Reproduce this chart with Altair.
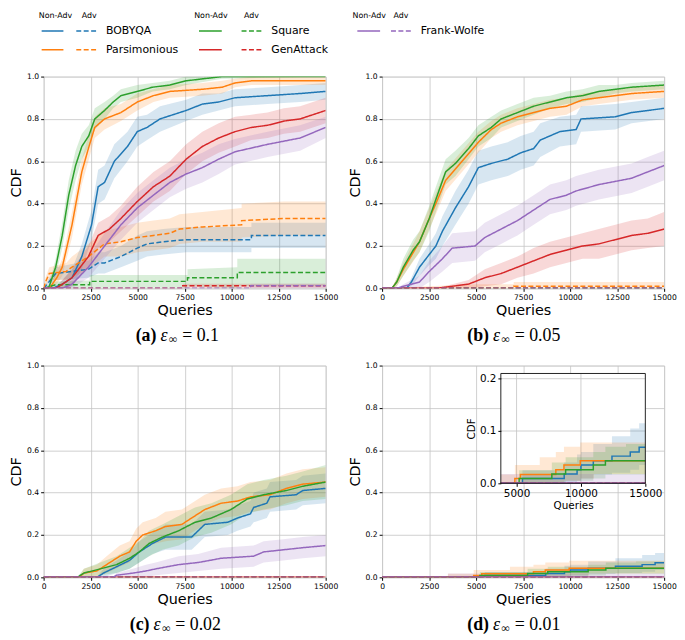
import altair as alt
import pandas as pd

METHODS = ["BOBYQA", "Parsimonious", "Square", "GenAttack", "Frank-Wolfe"]
COLORS = ["#1f77b4", "#ff7f0e", "#2ca02c", "#d62728", "#9467bd"]
KINDS = ["Non-Adv", "Adv"]
X_TICKS = [0, 2500, 5000, 7500, 10000, 12500, 15000]
Y_TICKS = [0.0, 0.2, 0.4, 0.6, 0.8, 1.0]
INSET_X_TICKS = [5000, 10000, 15000]
INSET_Y_TICKS = [0.0, 0.1, 0.2]
INSET_X_DOMAIN = [3780, 15000]
INSET_Y_DOMAIN = [0, 0.21]
CAPTIONS = [("a", "0.1"), ("b", "0.05"), ("c", "0.02"), ("d", "0.01")]

ZERO = [(0, 0.0, 0.0), (15000, 0.0, 0.0)]

# ---- panel (a) eps=0.1 : (queries, cdf, band half-width)
A_BOB_NA = [(0, 0, 0), (470, 0, 0), (1000, 0.02, 0.02), (1510, 0.05, 0.04), (2030, 0.15, 0.06), (2550, 0.30, 0.07),
            (2900, 0.48, 0.08), (3240, 0.50, 0.08), (3760, 0.60, 0.08), (4460, 0.67, 0.07), (4980, 0.74, 0.07),
            (5500, 0.76, 0.06), (6190, 0.80, 0.06), (7580, 0.84, 0.05), (8440, 0.87, 0.05), (9310, 0.88, 0.04),
            (10180, 0.90, 0.04), (11910, 0.91, 0.04), (13640, 0.92, 0.04), (15000, 0.93, 0.04)]
A_BOB_ADV = [(0, 0, 0), (100, 0.01, 0.01), (640, 0.07, 0.03), (2380, 0.09, 0.04), (2900, 0.12, 0.05), (3240, 0.12, 0.05),
             (4110, 0.15, 0.05), (4980, 0.19, 0.06), (5500, 0.21, 0.06), (6360, 0.22, 0.06), (7580, 0.23, 0.06),
             (11050, 0.23, 0.06), (11050, 0.25, 0.06), (15000, 0.25, 0.06)]
A_PARS_NA = [(0, 0, 0), (300, 0, 0), (700, 0.05, 0.03), (990, 0.10, 0.04), (1250, 0.20, 0.05), (1510, 0.30, 0.06),
             (1800, 0.44, 0.06), (2030, 0.55, 0.06), (2380, 0.66, 0.06), (2720, 0.76, 0.05), (3240, 0.80, 0.05),
             (4110, 0.83, 0.04), (4980, 0.88, 0.04), (5840, 0.91, 0.03), (6710, 0.93, 0.03), (8440, 0.94, 0.03),
             (9500, 0.95, 0.03), (10180, 0.97, 0.02), (11050, 0.98, 0.02), (15000, 0.98, 0.02)]
A_PARS_ADV = [(0, 0, 0), (100, 0.03, 0.02), (300, 0.07, 0.03), (1200, 0.08, 0.04), (1510, 0.10, 0.05), (2380, 0.15, 0.06),
              (3240, 0.21, 0.06), (4110, 0.22, 0.07), (4980, 0.24, 0.07), (5840, 0.25, 0.07), (6710, 0.26, 0.07),
              (7230, 0.28, 0.07), (8440, 0.29, 0.07), (10530, 0.30, 0.08), (10530, 0.32, 0.08), (12780, 0.33, 0.08),
              (15000, 0.33, 0.08)]
A_SQ_NA = [(0, 0, 0), (200, 0, 0), (300, 0.01, 0.01), (640, 0.10, 0.04), (990, 0.25, 0.06), (1335, 0.44, 0.07),
           (1700, 0.58, 0.07), (2030, 0.67, 0.06), (2400, 0.72, 0.05), (2720, 0.80, 0.05), (3240, 0.84, 0.04),
           (3700, 0.88, 0.03), (4110, 0.91, 0.03), (4980, 0.93, 0.03), (5800, 0.95, 0.02), (6710, 0.96, 0.02),
           (7580, 0.98, 0.02), (9480, 1.0, 0.01), (15000, 1.0, 0.0)]
A_SQ_ADV = [(0, 0, 0), (640, 0.017, 0.015), (2450, 0.017, 0.02), (2450, 0.033, 0.03), (7650, 0.033, 0.03),
            (7650, 0.05, 0.04), (10300, 0.05, 0.05), (10300, 0.075, 0.065), (15000, 0.075, 0.065)]
A_GEN_NA = [(0, 0, 0), (640, 0, 0), (1000, 0.02, 0.02), (1510, 0.05, 0.04), (2380, 0.15, 0.05), (2900, 0.25, 0.06),
            (3500, 0.28, 0.06), (4110, 0.33, 0.06), (4980, 0.41, 0.07), (5840, 0.48, 0.07), (6710, 0.53, 0.07),
            (7580, 0.61, 0.07), (8440, 0.67, 0.07), (9310, 0.71, 0.07), (10180, 0.74, 0.07), (11050, 0.76, 0.06),
            (11910, 0.77, 0.06), (12780, 0.79, 0.06), (13640, 0.80, 0.06), (15000, 0.84, 0.06)]
A_GEN_ADV = [(0, 0, 0), (7400, 0, 0), (7400, 0.012, 0.01), (15000, 0.012, 0.01)]
A_FW_NA = [(0, 0, 0), (990, 0, 0), (1510, 0.02, 0.02), (2380, 0.10, 0.05), (3240, 0.20, 0.06), (4110, 0.30, 0.07),
           (4980, 0.38, 0.07), (5840, 0.44, 0.07), (6710, 0.50, 0.07), (7580, 0.54, 0.07), (8440, 0.57, 0.07),
           (9310, 0.61, 0.07), (10180, 0.645, 0.06), (11910, 0.68, 0.06), (13640, 0.71, 0.06), (15000, 0.76, 0.05)]
A_FW_ADV = [(0, 0, 0), (11000, 0, 0), (11000, 0.012, 0.01), (15000, 0.012, 0.01)]

# ---- panel (b) eps=0.05
B_BOB_NA = [(0, 0, 0), (1300, 0, 0), (1560, 0.03, 0.02), (1990, 0.10, 0.04), (2510, 0.16, 0.05), (2860, 0.20, 0.06),
            (3210, 0.27, 0.07), (3900, 0.38, 0.08), (4600, 0.48, 0.08), (5120, 0.57, 0.08), (5810, 0.59, 0.08),
            (6680, 0.61, 0.08), (7370, 0.64, 0.08), (8060, 0.66, 0.08), (8410, 0.70, 0.08), (9450, 0.74, 0.07),
            (10320, 0.75, 0.07), (10580, 0.80, 0.06), (12400, 0.81, 0.06), (13270, 0.83, 0.05), (15000, 0.85, 0.05)]
B_PARS_NA = [(0, 0, 0), (520, 0, 0), (780, 0.03, 0.02), (1130, 0.09, 0.03), (1990, 0.22, 0.05), (2510, 0.33, 0.05),
             (2860, 0.40, 0.05), (3380, 0.51, 0.05), (4250, 0.60, 0.05), (5120, 0.69, 0.05), (5810, 0.75, 0.04),
             (6330, 0.78, 0.04), (7200, 0.81, 0.04), (8060, 0.83, 0.04), (8930, 0.85, 0.04), (9800, 0.86, 0.04),
             (10660, 0.89, 0.03), (11530, 0.90, 0.03), (13270, 0.92, 0.03), (15000, 0.93, 0.03)]
B_PARS_ADV = [(0, 0, 0), (5000, 0, 0.02), (7000, 0, 0.02), (7000, 0.01, 0.02), (15000, 0.01, 0.02)]
B_SQ_NA = [(0, 0, 0), (520, 0, 0), (780, 0.03, 0.02), (1130, 0.10, 0.04), (1650, 0.18, 0.05), (1990, 0.22, 0.05),
           (2510, 0.33, 0.06), (2860, 0.42, 0.06), (3380, 0.55, 0.06), (3900, 0.59, 0.06), (4600, 0.66, 0.05),
           (5120, 0.72, 0.05), (5810, 0.76, 0.05), (6330, 0.80, 0.04), (7200, 0.83, 0.04), (8060, 0.86, 0.04),
           (8930, 0.88, 0.03), (9800, 0.90, 0.03), (10660, 0.91, 0.03), (11530, 0.93, 0.03), (12400, 0.94, 0.02),
           (13270, 0.95, 0.02), (15000, 0.96, 0.02)]
B_GEN_NA = [(0, 0, 0), (2860, 0, 0), (3730, 0.01, 0.01), (4600, 0.02, 0.02), (5460, 0.05, 0.04), (6330, 0.07, 0.05),
            (7200, 0.10, 0.05), (8060, 0.13, 0.06), (8930, 0.16, 0.06), (9800, 0.18, 0.06), (10660, 0.20, 0.06),
            (11530, 0.21, 0.07), (12400, 0.23, 0.07), (13270, 0.25, 0.07), (14130, 0.26, 0.07), (15000, 0.28, 0.08)]
B_FW_NA = [(0, 0, 0), (780, 0, 0), (1130, 0.01, 0.01), (1990, 0.03, 0.03), (2510, 0.08, 0.05), (3210, 0.14, 0.06),
           (3730, 0.19, 0.07), (4940, 0.20, 0.07), (5460, 0.24, 0.07), (6330, 0.28, 0.07), (7200, 0.32, 0.07),
           (8060, 0.37, 0.07), (8930, 0.42, 0.07), (9800, 0.44, 0.07), (10320, 0.46, 0.07), (11530, 0.49, 0.07),
           (13270, 0.52, 0.07), (14130, 0.55, 0.07), (15000, 0.58, 0.07)]

# ---- panel (c) eps=0.02
C_BOB_NA = [(0, 0, 0), (2830, 0, 0), (3180, 0.02, 0.02), (3880, 0.05, 0.03), (4570, 0.08, 0.04), (5090, 0.12, 0.05),
            (5790, 0.16, 0.05), (6480, 0.19, 0.06), (7870, 0.19, 0.06), (8220, 0.22, 0.06), (8570, 0.25, 0.06),
            (9790, 0.26, 0.06), (10310, 0.28, 0.06), (11000, 0.30, 0.06), (11170, 0.33, 0.07), (11870, 0.35, 0.07),
            (12040, 0.38, 0.07), (13430, 0.39, 0.07), (13780, 0.41, 0.07), (15000, 0.42, 0.07)]
C_PARS_NA = [(0, 0, 0), (1880, 0, 0), (2140, 0.02, 0.02), (2830, 0.03, 0.03), (3350, 0.06, 0.04), (4050, 0.10, 0.05),
             (4570, 0.12, 0.05), (4920, 0.17, 0.06), (5270, 0.20, 0.06), (5960, 0.22, 0.06), (6480, 0.24, 0.07),
             (7350, 0.25, 0.07), (7870, 0.28, 0.07), (8570, 0.32, 0.07), (9440, 0.35, 0.07), (10310, 0.36, 0.07),
             (11000, 0.38, 0.07), (12040, 0.39, 0.07), (12910, 0.42, 0.07), (13780, 0.44, 0.07), (15000, 0.45, 0.07)]
C_SQ_NA = [(0, 0, 0), (1790, 0, 0), (2140, 0.02, 0.02), (3010, 0.04, 0.03), (3880, 0.06, 0.04), (4570, 0.09, 0.05),
           (5090, 0.12, 0.05), (5610, 0.16, 0.06), (6310, 0.19, 0.06), (7180, 0.22, 0.07), (8050, 0.26, 0.07),
           (8920, 0.28, 0.07), (9960, 0.32, 0.07), (10830, 0.37, 0.07), (11700, 0.39, 0.07), (12910, 0.41, 0.07),
           (13780, 0.43, 0.07), (15000, 0.45, 0.08)]
C_FW_NA = [(0, 0, 0), (3700, 0, 0), (3880, 0.01, 0.01), (4750, 0.02, 0.02), (5440, 0.03, 0.03), (5960, 0.04, 0.03),
           (7180, 0.06, 0.04), (8220, 0.07, 0.04), (9440, 0.09, 0.05), (11170, 0.10, 0.05), (11700, 0.12, 0.05),
           (12740, 0.13, 0.05), (13780, 0.14, 0.05), (15000, 0.15, 0.05)]

# ---- panel (d) eps=0.01 : (queries, cdf, band low, band high), step curves
D_ZERO = [(0, 0, 0, 0), (15000, 0, 0, 0)]
D_BOB_NA = [(0, 0, 0, 0), (5460, 0.009, 0, 0.025), (8700, 0.018, 0, 0.04), (9700, 0.026, 0.005, 0.055),
            (10000, 0.035, 0.009, 0.06), (10960, 0.043, 0.017, 0.075), (12410, 0.052, 0.02, 0.09),
            (13830, 0.060, 0.026, 0.105), (14520, 0.069, 0.035, 0.115), (15000, 0.069, 0.035, 0.115)]
D_PARS_NA = [(0, 0, 0, 0), (3500, 0, 0, 0.017), (4870, 0.009, 0, 0.035), (5300, 0.017, 0, 0.035),
             (6800, 0.017, 0, 0.05), (8050, 0.026, 0, 0.06), (8680, 0.035, 0.005, 0.07),
             (9950, 0.043, 0.009, 0.078), (11000, 0.043, 0.018, 0.078), (15000, 0.043, 0.018, 0.078)]
D_SQ_NA = [(0, 0, 0, 0), (5200, 0.009, 0, 0.025), (7740, 0.018, 0, 0.04), (8810, 0.026, 0.005, 0.05),
           (10960, 0.035, 0.009, 0.06), (11900, 0.043, 0.017, 0.07), (13500, 0.043, 0.017, 0.075),
           (15000, 0.043, 0.017, 0.075)]
D_FW_NA = [(0, 0, 0, 0), (3500, 0, 0, 0.018), (15000, 0, 0, 0.018)]

# ---- legend layout (pixels relative to the first panel's left edge / legend box top)
LEGEND_GROUPS = [["BOBYQA", "Parsimonious"], ["Square", "GenAttack"], ["Frank-Wolfe"]]
LEG_SOLID = [(-2, 20), (157, 180), (317, 340)]
LEG_DASH = [(33, 53), (200, 220), (351, 371)]
LEG_LABEL_X = [63, 230, 381]
LEG_HEAD_NA = [12, 169, 329]
LEG_HEAD_ADV = [46, 210, 361]
LEG_ROW_Y = [20, 39]
LEG_HEAD_Y = 5

W, H = 285, 214
HSP = 57
VSP = 78
GRID = "#c4c4c4"
FONT = "DejaVu Sans"
SERIF = "Liberation Serif"
IL, IR, IT, IB = 120, 266, 8, 119
LEG_W, LEG_H, LEG_GAP = 2 * W + HSP, 58, 8
BAND_OPACITY = 0.18

COLOR_SCALE = alt.Scale(domain=METHODS, range=COLORS)
DASH_SCALE = alt.Scale(domain=KINDS, range=[[1, 0], [5, 2.5]])


def curves_of(table, default):
    return [((m, k), table.get((m, k), default)) for m in METHODS for k in KINDS]


def build_df(curves, x_min=None):
    rows = []
    for (m, k), pts in curves:
        for i, p in enumerate(pts):
            if len(p) == 3:
                x, y, hw = p
                lo, hi = max(0.0, y - hw), min(1.0, y + hw)
            else:
                x, y, lo, hi = p
            if x_min is not None:
                x = max(x, x_min)
            rows.append(dict(method=m, kind=k, series=m + "|" + k, idx=i, x=x, y=y, lo=lo, hi=hi))
    return pd.DataFrame(rows)


def axis_common(**kw):
    base = dict(labelFontSize=7.7, titleFontSize=14.5, tickSize=3, labelPadding=2, titlePadding=3, grid=True,
                gridColor=GRID, gridWidth=0.8, domain=False, labelFlush=False, labelOverlap=False,
                tickColor="black", labelColor="black", titleColor="black", titleFontWeight="normal",
                labelFont=FONT, titleFont=FONT)
    base.update(kw)
    return alt.Axis(**base)


def caption_layers(letter, eps, px):
    c = alt.Chart(pd.DataFrame({"t": [0]}))
    yc = H + 48
    return [
        c.mark_text(text="(" + letter + ")", font=SERIF, fontSize=18, fontWeight="bold", align="right",
                    baseline="middle", color="black").encode(x=alt.value(px), y=alt.value(yc)),
        c.mark_text(text="ε", font=SERIF, fontSize=18, fontStyle="italic", align="left",
                    baseline="middle", color="black").encode(x=alt.value(px + 4), y=alt.value(yc)),
        c.mark_text(text="∞", font=SERIF, fontSize=12, align="left",
                    baseline="middle", color="black").encode(x=alt.value(px + 12.5), y=alt.value(yc + 3)),
        c.mark_text(text="= " + eps, font=SERIF, fontSize=18, align="left",
                    baseline="middle", color="black").encode(x=alt.value(px + 26), y=alt.value(yc)),
    ]


def main_layer(curves, interp, letter, eps, cap_x):
    df = build_df(curves)
    xs = alt.Scale(domain=[0, 15000], nice=False, zero=False)
    ys = alt.Scale(domain=[0, 1], nice=False)
    xa = axis_common(values=X_TICKS, format="d", title="Queries")
    ya = axis_common(values=Y_TICKS, format=".1f", title="CDF")
    x_enc = alt.X("x:Q", scale=xs, axis=xa)
    color = alt.Color("method:N", scale=COLOR_SCALE, legend=None)
    base = alt.Chart(df)
    bands = base.mark_area(interpolate=interp, opacity=BAND_OPACITY, clip=True).encode(
        x=x_enc, y=alt.Y("lo:Q", scale=ys, axis=ya), y2="hi:Q", color=color, detail="series:N")
    lines = base.mark_line(interpolate=interp, strokeWidth=1.5, clip=True).encode(
        x=x_enc, y=alt.Y("y:Q", scale=ys, axis=ya), color=color,
        strokeDash=alt.StrokeDash("kind:N", scale=DASH_SCALE, legend=None),
        detail="series:N", order="idx:Q")
    return alt.layer(bands, lines, *caption_layers(letter, eps, cap_x))


def inset_layer(curves):
    df = build_df(curves, x_min=INSET_X_DOMAIN[0])
    xs = alt.Scale(domain=INSET_X_DOMAIN, range=[IL, IR], nice=False, zero=False)
    ys = alt.Scale(domain=INSET_Y_DOMAIN, range=[IB, IT], nice=False)
    xa = axis_common(values=INSET_X_TICKS, format="d", orient="bottom", offset=IB - H, title="Queries",
                     labelFontSize=10.5, titleFontSize=10.5, titlePadding=2, grid=False, zindex=1)
    ya = axis_common(values=INSET_Y_TICKS, format=".1f", orient="left", offset=-IL, title="CDF",
                     labelFontSize=10.5, titleFontSize=10.5, grid=False, zindex=1)
    x_enc = alt.X("x:Q", scale=xs, axis=xa)
    y_enc = alt.Y("y:Q", scale=ys, axis=ya)
    box = pd.DataFrame({"x": [INSET_X_DOMAIN[0]], "xe": [INSET_X_DOMAIN[1]],
                        "y": [INSET_Y_DOMAIN[0]], "ye": [INSET_Y_DOMAIN[1]]})
    vgrid = pd.DataFrame({"x": INSET_X_TICKS[:-1], "y": [INSET_Y_DOMAIN[0]] * 2, "ye": [INSET_Y_DOMAIN[1]] * 2})
    hgrid = pd.DataFrame({"y": INSET_Y_TICKS[1:], "x": [INSET_X_DOMAIN[0]] * 2, "xe": [INSET_X_DOMAIN[1]] * 2})
    bg = alt.Chart(box).mark_rect(fill="white").encode(x=x_enc, x2="xe:Q", y=y_enc, y2="ye:Q")
    vg = alt.Chart(vgrid).mark_rule(color=GRID, strokeWidth=0.8).encode(x=x_enc, y=y_enc, y2="ye:Q")
    hg = alt.Chart(hgrid).mark_rule(color=GRID, strokeWidth=0.8).encode(y=y_enc, x=x_enc, x2="xe:Q")
    color = alt.Color("method:N", scale=COLOR_SCALE, legend=None)
    base = alt.Chart(df)
    bands = base.mark_area(interpolate="step-after", opacity=BAND_OPACITY).encode(
        x=x_enc, y=alt.Y("lo:Q", scale=ys, axis=ya), y2="hi:Q", color=color, detail="series:N")
    lines = base.mark_line(interpolate="step-after", strokeWidth=1.5).encode(
        x=x_enc, y=y_enc, color=color,
        strokeDash=alt.StrokeDash("kind:N", scale=DASH_SCALE, legend=None),
        detail="series:N", order="idx:Q")
    frame = alt.Chart(box).mark_rect(fillOpacity=0, stroke="#222222", strokeWidth=1).encode(
        x=x_enc, x2="xe:Q", y=y_enc, y2="ye:Q")
    return alt.layer(bg, vg, hg, bands, lines, frame)


def legend_layer():
    seg_rows, lab_rows, head_rows = [], [], []
    for g, members in enumerate(LEGEND_GROUPS):
        head_rows.append(dict(t="Non-Adv", x=LEG_HEAD_NA[g], y=LEG_HEAD_Y))
        head_rows.append(dict(t="Adv", x=LEG_HEAD_ADV[g], y=LEG_HEAD_Y))
        for r, m in enumerate(members):
            seg_rows.append(dict(method=m, kind="Non-Adv", x=LEG_SOLID[g][0], x2=LEG_SOLID[g][1], y=LEG_ROW_Y[r]))
            seg_rows.append(dict(method=m, kind="Adv", x=LEG_DASH[g][0], x2=LEG_DASH[g][1], y=LEG_ROW_Y[r]))
            lab_rows.append(dict(t=m, x=LEG_LABEL_X[g], y=LEG_ROW_Y[r]))
    lx = alt.Scale(domain=[0, LEG_W], range=[0, LEG_W], nice=False, zero=False)
    ly = alt.Scale(domain=[0, LEG_H], range=[-(LEG_H + LEG_GAP), -LEG_GAP], nice=False, zero=False)
    xe = alt.X("x:Q", scale=lx, axis=None)
    ye = alt.Y("y:Q", scale=ly, axis=None)
    leg_lines = alt.Chart(pd.DataFrame(seg_rows)).mark_rule(strokeWidth=1.5).encode(
        x=xe, x2="x2:Q", y=ye,
        color=alt.Color("method:N", scale=COLOR_SCALE, legend=None),
        strokeDash=alt.StrokeDash("kind:N", scale=DASH_SCALE, legend=None))
    leg_labels = alt.Chart(pd.DataFrame(lab_rows)).mark_text(
        align="left", baseline="middle", fontSize=11, font=FONT, color="black").encode(x=xe, y=ye, text="t:N")
    leg_heads = alt.Chart(pd.DataFrame(head_rows)).mark_text(
        align="center", baseline="middle", fontSize=8, font=FONT, color="black").encode(x=xe, y=ye, text="t:N")
    return alt.layer(leg_lines, leg_labels, leg_heads)


TABLE_A = {("BOBYQA", "Non-Adv"): A_BOB_NA, ("BOBYQA", "Adv"): A_BOB_ADV,
           ("Parsimonious", "Non-Adv"): A_PARS_NA, ("Parsimonious", "Adv"): A_PARS_ADV,
           ("Square", "Non-Adv"): A_SQ_NA, ("Square", "Adv"): A_SQ_ADV,
           ("GenAttack", "Non-Adv"): A_GEN_NA, ("GenAttack", "Adv"): A_GEN_ADV,
           ("Frank-Wolfe", "Non-Adv"): A_FW_NA, ("Frank-Wolfe", "Adv"): A_FW_ADV}
TABLE_B = {("BOBYQA", "Non-Adv"): B_BOB_NA, ("Parsimonious", "Non-Adv"): B_PARS_NA,
           ("Parsimonious", "Adv"): B_PARS_ADV, ("Square", "Non-Adv"): B_SQ_NA,
           ("GenAttack", "Non-Adv"): B_GEN_NA, ("Frank-Wolfe", "Non-Adv"): B_FW_NA}
TABLE_C = {("BOBYQA", "Non-Adv"): C_BOB_NA, ("Parsimonious", "Non-Adv"): C_PARS_NA,
           ("Square", "Non-Adv"): C_SQ_NA, ("Frank-Wolfe", "Non-Adv"): C_FW_NA}
TABLE_D = {("BOBYQA", "Non-Adv"): D_BOB_NA, ("Parsimonious", "Non-Adv"): D_PARS_NA,
           ("Square", "Non-Adv"): D_SQ_NA, ("Frank-Wolfe", "Non-Adv"): D_FW_NA}

pa_main = main_layer(curves_of(TABLE_A, ZERO), "linear", CAPTIONS[0][0], CAPTIONS[0][1], 114)
pa = alt.layer(pa_main, legend_layer()).resolve_scale(x="independent", y="independent").properties(
    width=W, height=H)
pb = main_layer(curves_of(TABLE_B, ZERO), "linear", CAPTIONS[1][0], CAPTIONS[1][1], 108).properties(
    width=W, height=H)
pc = main_layer(curves_of(TABLE_C, ZERO), "linear", CAPTIONS[2][0], CAPTIONS[2][1], 107).properties(
    width=W, height=H)
d_curves = curves_of(TABLE_D, D_ZERO)
pd_main = main_layer(d_curves, "step-after", CAPTIONS[3][0], CAPTIONS[3][1], 108)
pdd = alt.layer(pd_main, inset_layer(d_curves)).resolve_scale(x="independent", y="independent").properties(
    width=W, height=H)

chart = alt.concat(pa, pb, pc, pdd, columns=2, spacing={"row": VSP, "column": HSP}, bounds="flush").properties(
    padding=0).configure_view(stroke="#222222", strokeWidth=1).configure(font=FONT)

chart.save("out.html", embed_options={"renderer": "svg", "actions": False})
